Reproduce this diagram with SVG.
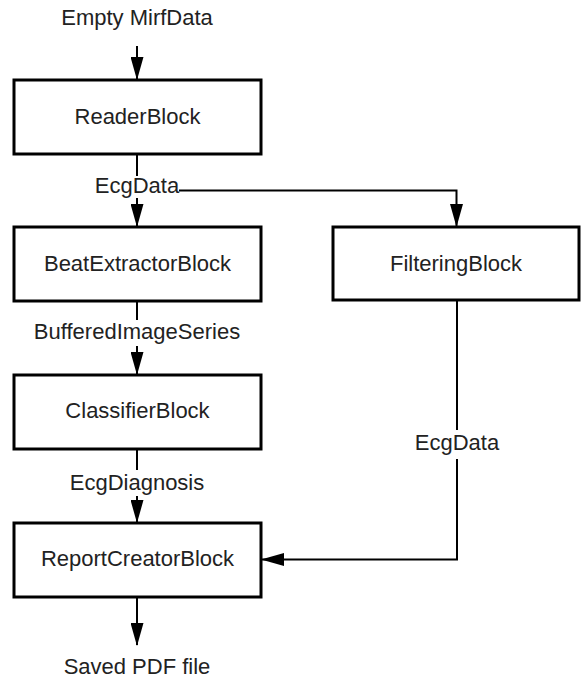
<svg xmlns="http://www.w3.org/2000/svg" width="583" height="679" viewBox="0 0 583 679">
  <style>
    .box { fill: #ffffff; stroke: #000000; stroke-width: 3; }
    .txt { font-family: "Liberation Sans", Arial, sans-serif; font-size: 22px; fill: #222222; text-anchor: middle; }
    .conn { fill: none; stroke: #000000; stroke-width: 2; }
    .lblbg { fill: #ffffff; stroke: none; }
  </style>
  <defs>
    <marker id="arrow" markerUnits="userSpaceOnUse" markerWidth="23" markerHeight="13" refX="22" refY="6.5" orient="auto">
      <path d="M0,0 L23,6.5 L0,13 z" fill="#000000"/>
    </marker>
  </defs>
  <rect x="0" y="0" width="583" height="679" fill="#ffffff"/>

  <g id="connectors">
    <line class="conn" x1="137" y1="46" x2="137" y2="79" marker-end="url(#arrow)"/>
    <line class="conn" x1="137" y1="154" x2="137" y2="226" marker-end="url(#arrow)"/>
    <path class="conn" d="M137,154 V190.5 H456.5 V226" marker-end="url(#arrow)"/>
    <line class="conn" x1="137" y1="301" x2="137" y2="374" marker-end="url(#arrow)"/>
    <line class="conn" x1="137" y1="449" x2="137" y2="522" marker-end="url(#arrow)"/>
    <path class="conn" d="M457,300 V559.5 H262" marker-end="url(#arrow)"/>
    <line class="conn" x1="137" y1="597" x2="137" y2="645" marker-end="url(#arrow)"/>

    <g id="label-ecgdata-1">
      <rect class="lblbg" x="95" y="176" width="84" height="22"/>
      <text class="txt" x="137" y="193">EcgData</text>
    </g>
    <g id="label-buffered">
      <rect class="lblbg" x="33" y="320" width="208" height="26"/>
      <text class="txt" x="137" y="339">BufferedImageSeries</text>
    </g>
    <g id="label-diagnosis">
      <rect class="lblbg" x="67" y="470" width="140" height="26"/>
      <text class="txt" x="137" y="490">EcgDiagnosis</text>
    </g>
    <g id="label-ecgdata-2">
      <rect class="lblbg" x="413" y="430" width="88" height="29"/>
      <text class="txt" x="457" y="450">EcgData</text>
    </g>
  </g>

  <g id="input">
    <text class="txt" x="137" y="25">Empty MirfData</text>
  </g>

  <g id="reader">
    <rect class="box" x="14" y="80" width="247" height="74"/>
    <text class="txt" x="137.5" y="124">ReaderBlock</text>
  </g>

  <g id="beatextractor">
    <rect class="box" x="14" y="227" width="247" height="74"/>
    <text class="txt" x="137.5" y="271">BeatExtractorBlock</text>
  </g>

  <g id="filtering">
    <rect class="box" x="333" y="227" width="246" height="73"/>
    <text class="txt" x="456" y="270.5">FilteringBlock</text>
  </g>

  <g id="classifier">
    <rect class="box" x="14" y="375" width="247" height="74"/>
    <text class="txt" x="137.5" y="418">ClassifierBlock</text>
  </g>

  <g id="reportcreator">
    <rect class="box" x="14" y="523" width="247" height="74"/>
    <text class="txt" x="137.5" y="566">ReportCreatorBlock</text>
  </g>

  <g id="output">
    <text class="txt" x="137" y="674">Saved PDF file</text>
  </g>
</svg>
